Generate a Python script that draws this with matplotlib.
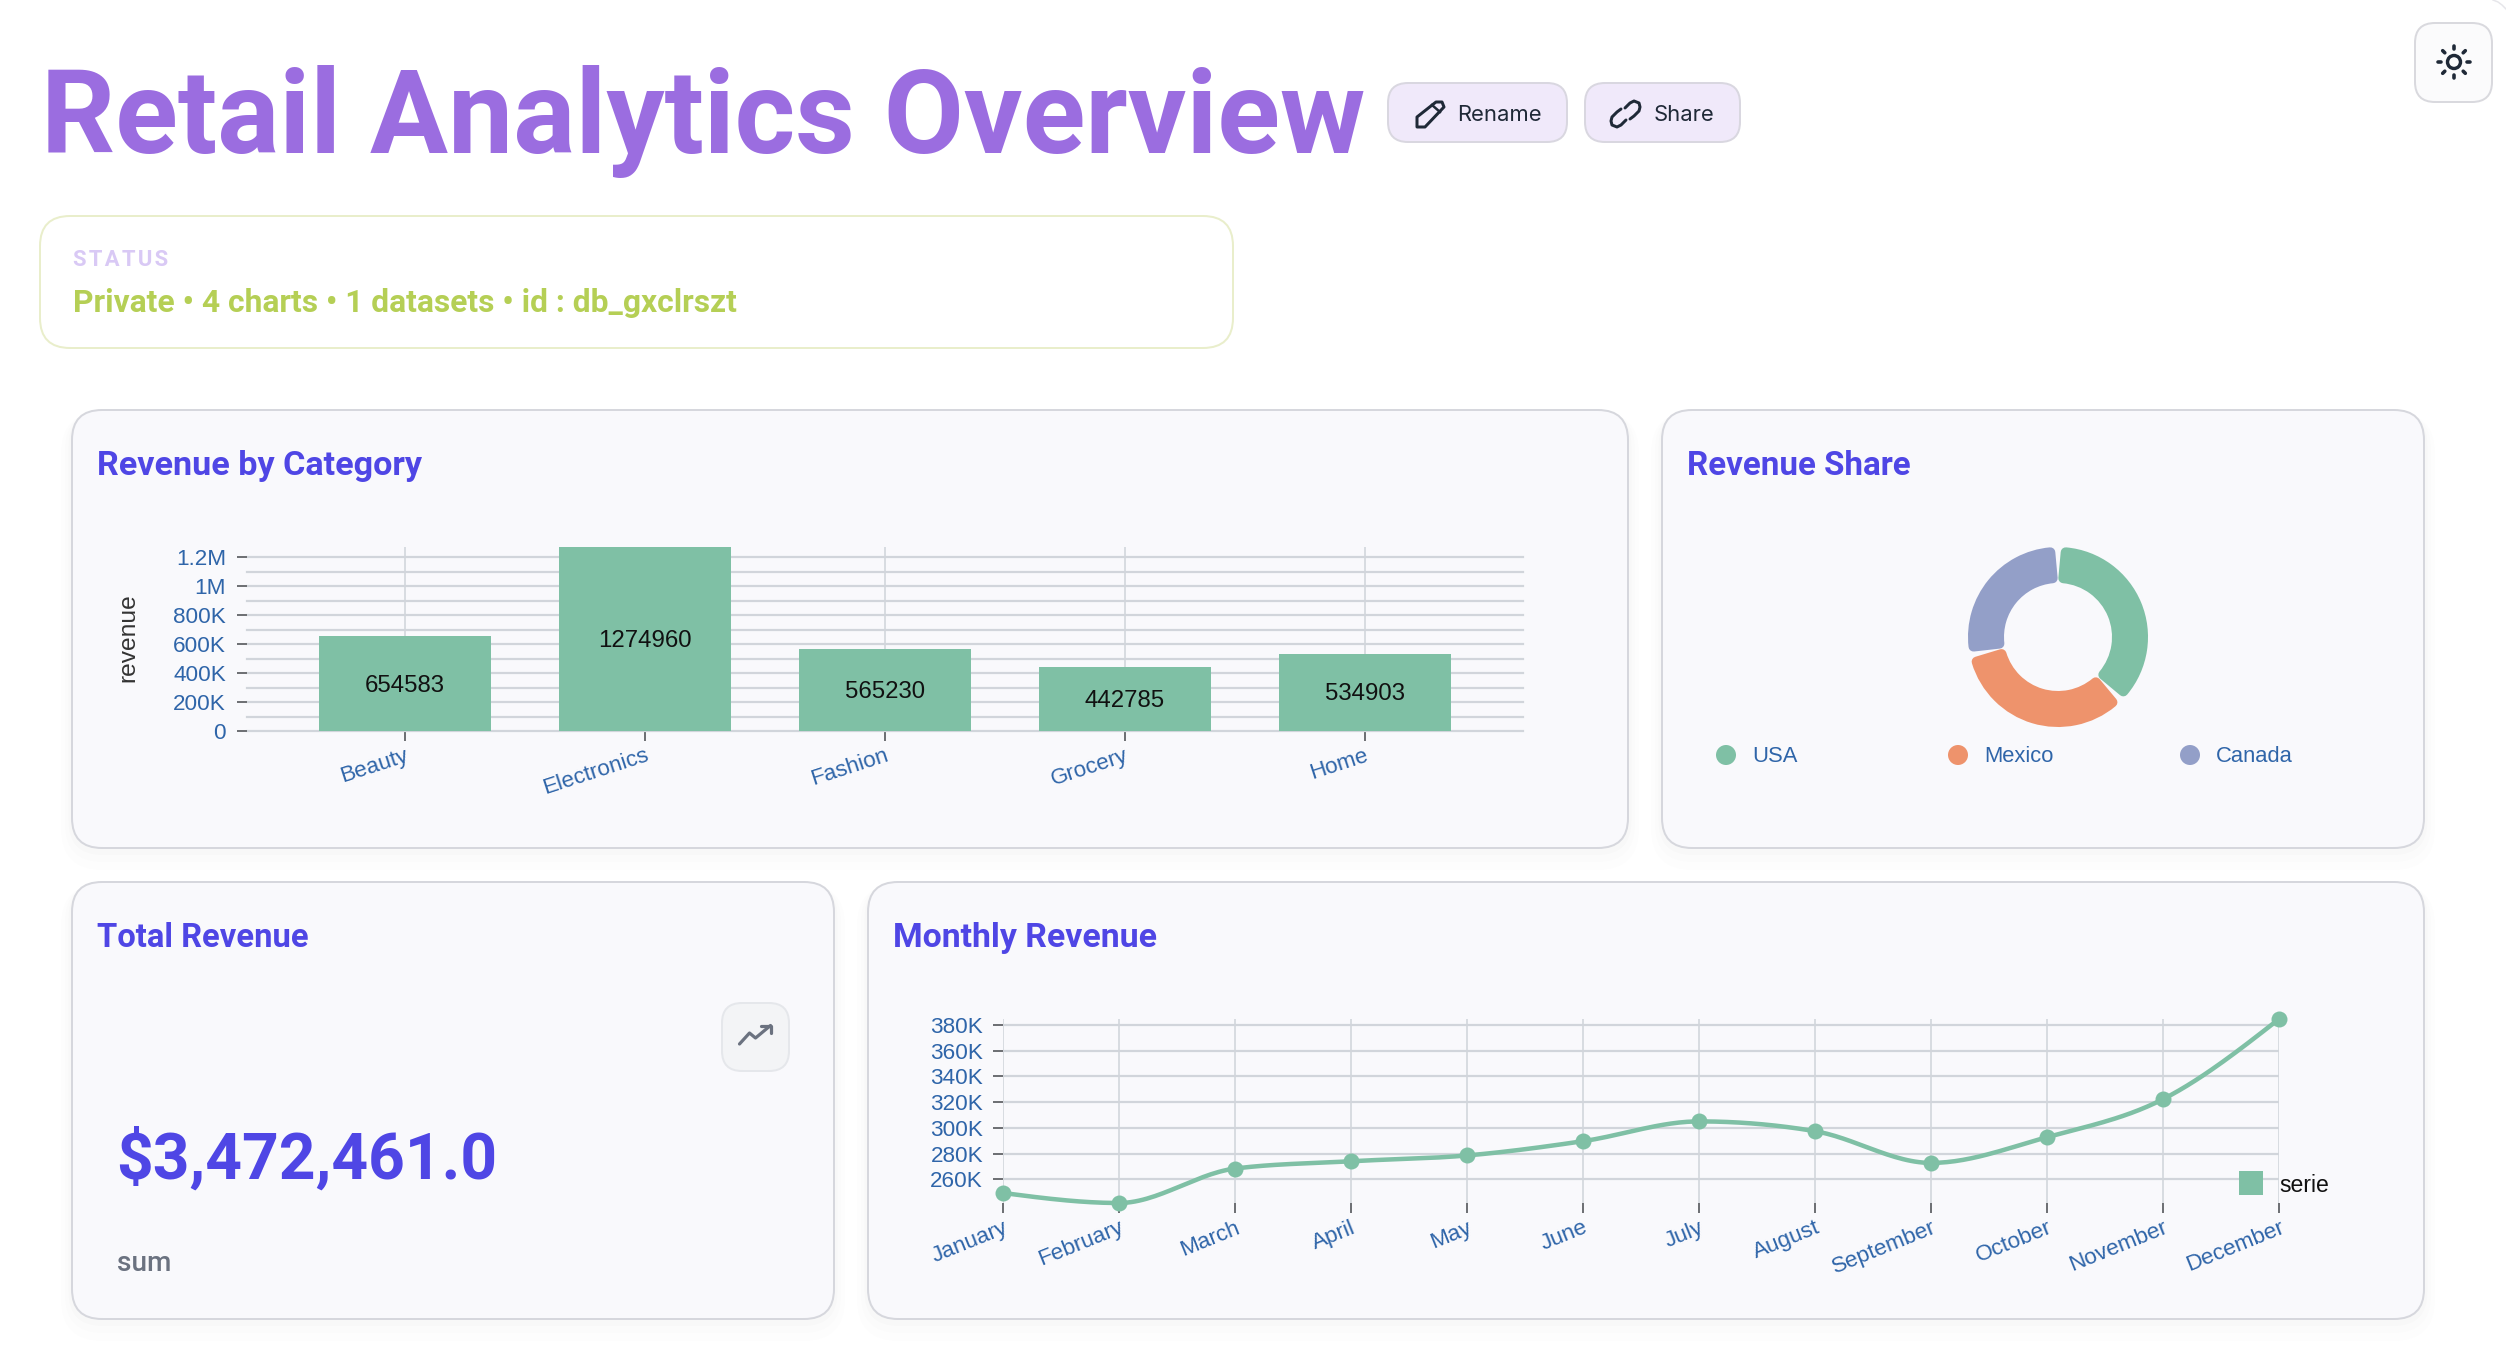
import numpy as np
import matplotlib
matplotlib.use("Agg")
import matplotlib.pyplot as plt
from matplotlib.patches import FancyBboxPatch, Circle, Rectangle, Polygon
from matplotlib.ticker import FixedLocator, FixedFormatter, NullFormatter

W, H = 2506, 1368

# ---------- data ----------
categories = ["Beauty", "Electronics", "Fashion", "Grocery", "Home"]
revenue = [654583, 1274960, 565230, 442785, 534903]
bar_major_ticks = [0, 200000, 400000, 600000, 800000, 1000000, 1200000]
bar_minor_ticks = [100000, 300000, 500000, 700000, 900000, 1100000]
bar_tick_labels = ["0", "200K", "400K", "600K", "800K", "1M", "1.2M"]

countries = ["USA", "Mexico", "Canada"]
country_revenue = [1302000, 1190000, 980461]

months = ["January", "February", "March", "April", "May", "June", "July",
          "August", "September", "October", "November", "December"]
monthly = [249300, 241500, 268300, 274000, 278500, 289600, 305000,
           297400, 272700, 292700, 322300, 384700]
line_ticks = [260000, 280000, 300000, 320000, 340000, 360000, 380000]
line_tick_labels = ["260K", "280K", "300K", "320K", "340K", "360K", "380K"]

# ---------- styles ----------
GREEN, ORANGE, BLUE = "#7fc0a5", "#ee936c", "#939fc8"
AXIS_TEXT = "#2f65a9"
GRID = "#d1d5db"
TICK = "#6f7175"
INDIGO = "#4f46e5"
CARD_FILL = "#f9f9fc"
CARD_EDGE = "#d6d7dd"
HEAD = "Roboto"
CHART = "Liberation Sans"


def pt(px):
    return px * 0.72


fig = plt.figure(figsize=(W / 100, H / 100), dpi=100, facecolor="white")
bg = fig.add_axes([0, 0, 1, 1], zorder=0)
bg.set_xlim(0, W)
bg.set_ylim(H, 0)
bg.axis("off")


def rbox(x0, y0, x1, y1, r, fc, ec, lw=2.0, z=2, alpha=None):
    p = FancyBboxPatch((x0 + r, y0 + r), x1 - x0 - 2 * r, y1 - y0 - 2 * r,
                       boxstyle=f"round,pad={r},rounding_size={r}",
                       fc=fc, ec=ec, lw=pt(lw), zorder=z, alpha=alpha)
    bg.add_patch(p)
    return p


def fit_text(x, y, s, width, family, weight="bold", color="k", va="baseline", ha="left"):
    t = bg.text(x, y, s, family=family, weight=weight, color=color, va=va, ha=ha,
                fontsize=20, zorder=5)
    ext = t.get_window_extent(fig.canvas.get_renderer())
    t.set_fontsize(20 * width / ext.width)
    return t


# ---------- cards ----------
cards = [(72, 410, 1628, 848), (1662, 410, 2424, 848),
         (72, 882, 834, 1319), (868, 882, 2424, 1319)]
for c in cards:
    for i, a in zip((22, 14, 7), (0.006, 0.008, 0.012)):
        rbox(c[0] - i * 0.5, c[1] + 2, c[2] + i * 0.5, c[3] + i, 30 + i * 0.5,
             "#000000", "none", 0, z=1, alpha=a)
    rbox(*c, 30, CARD_FILL, CARD_EDGE, 2)

# ---------- header ----------
fit_text(41, 153, "Retail Analytics Overview", 1321, HEAD, color="#9b6de0")
rbox(40, 216, 1233, 348, 30, "white", "#e9eecb", 2)
bg.text(73, 260, "S\u200aT\u200aA\u200aT\u200aU\u200aS", family=[HEAD, "DejaVu Sans"], weight="bold",
        fontsize=pt(22), color="#d9c9f5", va="center", zorder=5)
fit_text(73, 312, "Private \u2022 4 charts \u2022 1 datasets \u2022 id : db_gxclrszt", 662, HEAD,
         color="#b5cf55")

rbox(1388, 83, 1567, 142, 20, "#f0e9fa", "#d9d7e0", 2)
rbox(1585, 83, 1740, 142, 20, "#f0e9fa", "#d9d7e0", 2)
bg.text(1457, 115, "Rename", family="Inter", fontsize=pt(22), color="#1f2937", va="center", zorder=5)
bg.text(1654, 115, "Share", family="Inter", fontsize=pt(22), color="#1f2937", va="center", zorder=5)

ICON = "#1f2937"
bg.add_patch(Polygon([(1417, 127), (1417, 117), (1436, 102), (1442, 102), (1444, 107), (1425, 127)],
                     closed=True, fc="none", ec=ICON, lw=pt(3), joinstyle="round", zorder=5))
bg.plot([1432, 1440], [105, 112], color=ICON, lw=pt(2.5), zorder=5)
bg.plot([1625, 1630, 1634, 1639, 1640, 1639, 1634, 1630],
        [108, 103, 101, 103, 107, 111, 116, 119],
        color=ICON, lw=pt(3), solid_capstyle="round", zorder=5)
bg.plot([1626, 1621, 1617, 1612, 1611, 1612, 1617, 1621],
        [120, 125, 127, 125, 121, 117, 112, 109],
        color=ICON, lw=pt(3), solid_capstyle="round", zorder=5)

bg.plot([2493, 2498, 2502, 2506], [0, 2, 5, 9], color="#e6e6ea", lw=pt(1.5), zorder=1)
rbox(2415, 23, 2492, 102, 20, "#fbfbfc", "#d9d9de", 2)
bg.add_patch(Circle((2454, 62), 6.5, fc="none", ec=ICON, lw=pt(3.4), zorder=5))
for ang in np.arange(0, 360, 45):
    ca, sa = np.cos(np.radians(ang)), np.sin(np.radians(ang))
    bg.plot([2454 + 13 * ca, 2454 + 16 * ca], [62 + 13 * sa, 62 + 16 * sa],
            color=ICON, lw=pt(3.6), solid_capstyle="round", zorder=5)

# ---------- card titles ----------
fit_text(97, 475, "Revenue by Category", 325, HEAD, color=INDIGO)
fit_text(1687, 475, "Revenue Share", 223, HEAD, color=INDIGO)
fit_text(97, 947, "Total Revenue", 211, HEAD, color=INDIGO)
fit_text(893, 947, "Monthly Revenue", 264, HEAD, color=INDIGO)

# ---------- KPI ----------
rbox(722, 1003, 789, 1071, 20, "#f3f4f6", "#e5e7eb", 2)
bg.plot([739.5, 749.5, 755.5, 770.5], [1044, 1033, 1038, 1025.5], color="#6b7280", lw=pt(3.2),
        solid_capstyle="round", solid_joinstyle="round", zorder=5)
bg.plot([761, 770.5, 770.5], [1025.5, 1025.5, 1033], color="#6b7280", lw=pt(3.2),
        solid_capstyle="round", solid_joinstyle="round", zorder=5)
fit_text(116, 1179, "$3,472,461.0", 381, HEAD, color=INDIGO)
bg.text(117, 1271, "sum", family=HEAD, weight="medium", fontsize=pt(28), color="#6b7280", zorder=5)


def px_axes(l, t, r, b, **kw):
    ax = fig.add_axes([l / W, 1 - b / H, (r - l) / W, (b - t) / H], zorder=3, **kw)
    ax.patch.set_alpha(0)
    for s in ax.spines.values():
        s.set_visible(False)
    return ax


# ---------- bar chart ----------
ax = px_axes(247, 546.5, 1523, 731)
ax.set_xlim(-0.658, 4.658)
ax.set_ylim(0, max(revenue))
ax.set_axisbelow(True)
ax.bar(range(len(categories)), revenue, width=0.717, color=GREEN, zorder=3)
for i, v in enumerate(revenue):
    ax.annotate(str(v), xy=(i, v / 2), xytext=(0, pt(-2)), textcoords="offset points",
                ha="center", va="center", family=CHART, fontsize=pt(24),
                color="#111111", zorder=4)
ax.yaxis.set_major_locator(FixedLocator(bar_major_ticks))
ax.yaxis.set_major_formatter(FixedFormatter(bar_tick_labels))
ax.yaxis.set_minor_locator(FixedLocator(bar_minor_ticks))
ax.yaxis.set_minor_formatter(NullFormatter())
ax.set_xticks(range(len(categories)))
ax.set_xticklabels([])
ax.grid(True, which="both", axis="y", color=GRID, lw=pt(2.2), clip_on=False)
ax.grid(True, which="major", axis="x", color=GRID, lw=pt(1.6))
ax.tick_params(axis="y", which="major", length=pt(10), width=pt(2), color=TICK, pad=pt(11),
               labelcolor=AXIS_TEXT, labelsize=pt(22.5))
ax.tick_params(axis="y", which="minor", length=0)
ax.tick_params(axis="x", length=pt(10), width=pt(2), color=TICK)
for lab in ax.get_yticklabels():
    lab.set_family(CHART)
for i, name in enumerate(categories):
    ax.annotate(name, xy=(i, 0), xycoords="data", xytext=(pt(3), pt(-24)), textcoords="offset points",
                rotation=18, rotation_mode="anchor", ha="right", va="center",
                family=CHART, fontsize=pt(22.5), color=AXIS_TEXT, annotation_clip=False)
bg.text(128, 638, "revenue", rotation=90, ha="center", va="center", family=CHART,
        fontsize=pt(24.5), color="#333333", zorder=5)

# ---------- donut ----------
dax = px_axes(1958, 537, 2158, 737)
wedges, _ = dax.pie(country_revenue, colors=[GREEN, ORANGE, BLUE], startangle=90, counterclock=False,
                    radius=85, wedgeprops=dict(width=26))
dax.set_xlim(-100, 100)
dax.set_ylim(-100, 100)
for w, col in zip(wedges, [GREEN, ORANGE, BLUE]):
    w.set_theta1(w.theta1 + 5.2)
    w.set_theta2(w.theta2 - 5.2)
    w.set_edgecolor(col)
    w.set_linewidth(pt(10))
    w.set_joinstyle("round")
for xc, name, col in zip((1726, 1958, 2190), countries, (GREEN, ORANGE, BLUE)):
    bg.add_patch(Circle((xc, 755), 10, fc=col, ec="none", zorder=5))
    bg.text(xc + 26, 757, name, family=CHART, fontsize=pt(22), color=AXIS_TEXT, va="center", zorder=5)

# ---------- line chart ----------
lax = px_axes(1003, 1019, 2279, 1203)
lax.set_xlim(0, 11)
lax.set_ylim(min(monthly), max(monthly))
lax.set_axisbelow(True)
xs = np.arange(len(months), dtype=float)
ys = np.array(monthly, dtype=float)
# d3 monotone-x tangents, so the curve passes through every reading
sl = np.diff(ys)
tan = np.zeros_like(ys)
for i in range(1, len(ys) - 1):
    s0, s1 = sl[i - 1], sl[i]
    tan[i] = (np.sign(s0) + np.sign(s1)) * min(abs(s0), abs(s1), 0.25 * abs(s0 + s1))
tan[0] = (3 * sl[0] - tan[1]) / 2
tan[-1] = (3 * sl[-1] - tan[-2]) / 2
cx, cy = [], []
for i in range(len(ys) - 1):
    u = np.linspace(0, 1, 30)
    cy.append((2 * u**3 - 3 * u**2 + 1) * ys[i] + (u**3 - 2 * u**2 + u) * tan[i]
              + (-2 * u**3 + 3 * u**2) * ys[i + 1] + (u**3 - u**2) * tan[i + 1])
    cx.append(xs[i] + u)
lax.plot(np.concatenate(cx), np.concatenate(cy), color=GREEN, lw=pt(4.5), clip_on=False, zorder=3)
lax.plot(xs, ys, "o", color=GREEN, ms=pt(16), mew=0, clip_on=False, zorder=4)
lax.set_yticks(line_ticks)
lax.set_yticklabels(line_tick_labels, family=CHART)
lax.set_xticks(xs)
lax.set_xticklabels([])
lax.grid(True, axis="y", color=GRID, lw=pt(2.2))
lax.grid(True, axis="x", color=GRID, lw=pt(1.6))
lax.tick_params(axis="y", length=pt(10), width=pt(2), color=TICK, pad=pt(10),
                labelcolor=AXIS_TEXT, labelsize=pt(22.5))
lax.tick_params(axis="x", length=pt(10), width=pt(2), color=TICK)
for i, name in enumerate(months):
    lax.annotate(name, xy=(i, min(monthly)), xycoords="data", xytext=(pt(4), pt(-24)), textcoords="offset points",
                 rotation=22, rotation_mode="anchor", ha="right", va="center",
                 family=CHART, fontsize=pt(22.5), color=AXIS_TEXT, annotation_clip=False)
# the legend sits above the chart axes
lax.add_patch(Rectangle((2239, 1171), 24, 24, fc=GREEN, ec="none", zorder=6, clip_on=False,
                        transform=bg.transData))
fig.text(2279 / W, 1 - 1186 / H, "serie", family=CHART, fontsize=pt(23), color="#111111", va="center", zorder=6)

fig.savefig("out.png", dpi=100, facecolor="white")
